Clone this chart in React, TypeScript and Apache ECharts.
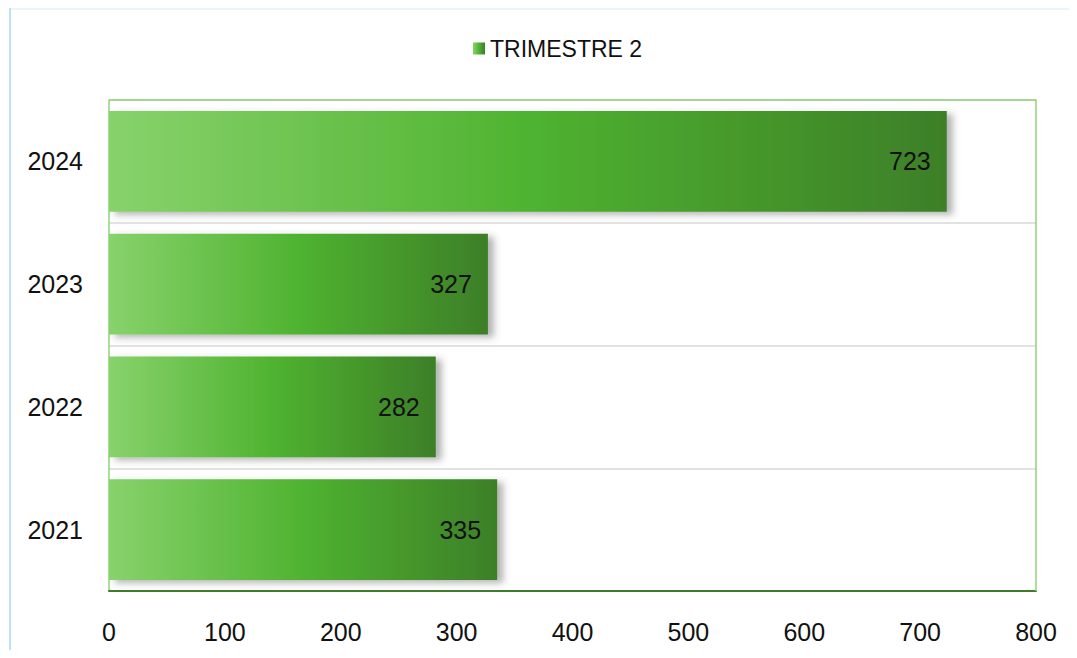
import React, { useEffect, useRef } from "react";
import * as echarts from "echarts";

const categories = ["2021", "2022", "2023", "2024"];
const values = [335, 282, 327, 723];
const xTicks = [0, 100, 200, 300, 400, 500, 600, 700, 800];
const seriesName = "TRIMESTRE 2";

const W = 1061;
const H = 642;
const GRID = { left: 101, right: 33, top: 92, bottom: 59 };

export default function App() {
  const ref = useRef<HTMLDivElement>(null);
  useEffect(() => {
    if (!ref.current) return;
    const chart = echarts.init(ref.current, undefined, { renderer: "svg" });
    const font = "'Liberation Sans', Arial, sans-serif";
    const px = GRID.left;
    const py = GRID.top;
    const pr = W - GRID.right;
    const pb = H - GRID.bottom;
    chart.setOption({
      animation: false,
      backgroundColor: "#ffffff",
      textStyle: { fontFamily: font },
      graphic: [
        {
          type: "line",
          shape: { x1: 2, y1: 1, x2: W, y2: 1 },
          style: { stroke: "#e3f1f9", lineWidth: 1.5 },
          silent: true,
        },
        {
          type: "line",
          shape: { x1: 2, y1: 0, x2: 2, y2: H },
          style: { stroke: "#a9d8ef", lineWidth: 1.5 },
          silent: true,
        },
        {
          type: "polyline",
          shape: {
            points: [
              [px, py],
              [pr, py],
              [pr, pb],
            ],
          },
          style: { fill: "none", stroke: "#8fd47a", lineWidth: 1.5 },
          silent: true,
          z: 10,
        },
      ],
      legend: {
        top: 24,
        left: 460,
        itemWidth: 12,
        itemHeight: 12,
        icon: "rect",
        itemGap: 7,
        textStyle: { fontSize: 23, color: "#111", fontFamily: font },
        data: [seriesName],
      },
      grid: { ...GRID, containLabel: false },
      xAxis: {
        type: "value",
        min: 0,
        max: 800,
        interval: 100,
        axisLine: { show: true, lineStyle: { color: "#3e7b2a", width: 2 } },
        axisTick: { show: false },
        splitLine: { show: false },
        axisLabel: {
          fontSize: 25,
          color: "#111",
          margin: 28,
          fontFamily: font,
          formatter: (v: number) => (xTicks.includes(v) ? String(v) : ""),
        },
      },
      yAxis: {
        type: "category",
        data: categories,
        axisLine: { show: true, lineStyle: { color: "#8fd47a", width: 1.5 } },
        axisTick: { show: false },
        splitLine: { show: true, lineStyle: { color: "#d9d9d9", width: 1.5 } },
        axisLabel: { fontSize: 25, color: "#111", margin: 26, fontFamily: font },
      },
      series: [
        {
          name: seriesName,
          type: "bar",
          data: values,
          barCategoryGap: "18%",
          itemStyle: {
            color: new echarts.graphic.LinearGradient(0, 0, 1, 0, [
              { offset: 0, color: "#88d26c" },
              { offset: 0.5, color: "#4fb330" },
              { offset: 1, color: "#3d7f28" },
            ]),
            shadowColor: "rgba(60,70,60,0.4)",
            shadowBlur: 7,
            shadowOffsetX: 6,
            shadowOffsetY: 3,
          },
          label: {
            show: true,
            position: "insideRight",
            distance: 16,
            fontSize: 25,
            color: "#111",
            fontFamily: font,
          },
        },
      ],
    });
    return () => chart.dispose();
  }, []);
  return <div ref={ref} style={{ width: W, height: H }} />;
}
